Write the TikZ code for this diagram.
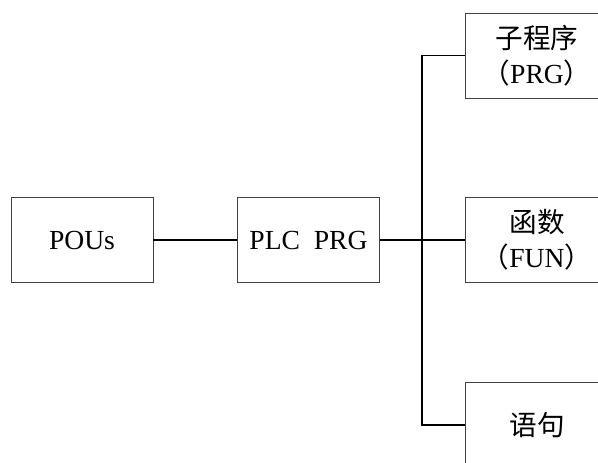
\documentclass[tikz,border=0pt]{standalone}
\usepackage{fontspec}
\setmainfont{Liberation Serif}
\newfontfamily\cjk{Noto Sans CJK SC}
\begin{document}
\begin{tikzpicture}[x=1pt,y=-1pt,
  box/.style={draw=black!75, line width=0.9pt, inner sep=0pt, align=center,
    font=\fontsize{27.6}{35}\selectfont},
  leftbox/.style={box, minimum width=142pt, minimum height=85pt},
  rightbox/.style={box, minimum width=144pt, minimum height=85pt},
  link/.style={line width=1.4pt},
  trunk/.style={line width=2.2pt}]
\clip (0,0) rectangle (598,463);
\useasboundingbox (0,0) rectangle (598,463);
% main chain
\node[leftbox] (pous) at (82,240) {POUs};
\node[leftbox] (plc) at (308.5,240) {PLC\ \ PRG};
% program organisation units
\node[rightbox] (prg) at (537,55.5) {{\cjk 子程序}\\{\cjk （}PRG{\cjk ）}};
\node[rightbox] (fun) at (537,240) {{\cjk 函数}\\{\cjk （}FUN{\cjk ）}};
\node[rightbox] (stmt) at (537,425) {{\cjk 语句}};
% connectors
\coordinate (bus) at (422,240);
\draw[link] (pous.east) -- (plc.west);
\draw[trunk] (plc.east) -- (bus);
\draw[link] (bus) -- (fun.west);
\draw[link] (prg.west) -| (bus) |- (stmt.west);
\end{tikzpicture}
\end{document}
